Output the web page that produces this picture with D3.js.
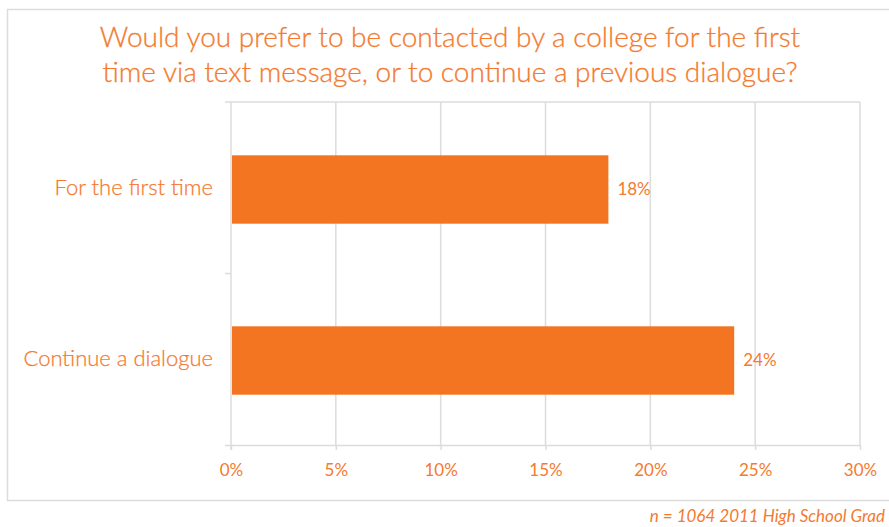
<!DOCTYPE html>
<html>
<head>
<meta charset="utf-8">
<script src="https://cdn.jsdelivr.net/npm/d3@7"></script>
<style>
  html, body { margin: 0; padding: 0; background: #fff; }
  svg { display: block; font-family: Lato, "Open Sans", sans-serif; }
</style>
</head>
<body>
<svg id="chart" width="889" height="527"></svg>
<script>
// Survey responses: share preferring text contact, by situation
const categories = ["For the first time", "Continue a dialogue"];
const values = [18, 24];
const tickValues = [0, 5, 10, 15, 20, 25, 30];
const titleLines = [
  "Would you prefer to be contacted by a college for the first",
  "time via text message, or to continue a previous dialogue?"
];
const footnote = "n = 1064 2011 High School Grad";

const orange = "#F37521";
const textOrange = "#F47A30";
const grid = "#DCDCDC";

const svg = d3.select("#chart");
const W = 889, H = 527;
const plot = { left: 231, right: 860, top: 102, bottom: 445 };

// outer frame
svg.append("rect")
  .attr("x", 7.5).attr("y", 9.5)
  .attr("width", W + 10).attr("height", 491)
  .attr("fill", "none").attr("stroke", grid).attr("stroke-width", 1.5);

// title
svg.append("g").selectAll("text")
  .data(titleLines).join("text")
  .attr("x", 450).attr("y", (d, i) => 47 + i * 35)
  .attr("text-anchor", "middle")
  .attr("font-size", 28).attr("font-weight", 300)
  .attr("fill", textOrange)
  .attr("stroke", textOrange).attr("stroke-width", 0.3)
  .text(d => d);

const x = d3.scaleLinear().domain([0, 30]).range([plot.left, plot.right]);
const y = d3.scaleBand().domain(categories).range([plot.top + 2, plot.bottom + 1])
  .paddingInner(0.6).paddingOuter(0.3);

// vertical gridlines
svg.append("g").selectAll("line")
  .data(tickValues.slice(1)).join("line")
  .attr("x1", d => x(d)).attr("x2", d => x(d))
  .attr("y1", plot.top).attr("y2", plot.bottom)
  .attr("stroke", grid).attr("stroke-width", 1.5);

// top border of the plot area
svg.append("line")
  .attr("x1", plot.left - 6).attr("x2", plot.right)
  .attr("y1", plot.top).attr("y2", plot.top)
  .attr("stroke", grid).attr("stroke-width", 1.5);

// left axis with a tick between categories
const yAxisG = svg.append("g");
yAxisG.append("line")
  .attr("x1", plot.left).attr("x2", plot.left)
  .attr("y1", plot.top).attr("y2", plot.bottom + 5)
  .attr("stroke", grid).attr("stroke-width", 1.5);
yAxisG.selectAll("line.tick")
  .data([(plot.top + plot.bottom) / 2]).join("line").attr("class", "tick")
  .attr("x1", plot.left - 6).attr("x2", plot.left)
  .attr("y1", d => d).attr("y2", d => d)
  .attr("stroke", grid).attr("stroke-width", 1.5);

// bottom axis
const xAxis = d3.axisBottom(x).tickValues(tickValues)
  .tickFormat(d => d + "%").tickSize(5).tickPadding(14);
const xAxisG = svg.append("g")
  .attr("transform", `translate(0,${plot.bottom})`)
  .call(xAxis);
xAxisG.select(".domain").attr("stroke", grid).attr("stroke-width", 1.5)
  .attr("d", `M${plot.left - 6},0.5H${plot.right}`);
xAxisG.selectAll(".tick line").attr("stroke", grid).attr("stroke-width", 1.5);
xAxisG.selectAll(".tick text")
  .attr("fill", textOrange).attr("font-size", 17)
  .attr("font-weight", 400)
  .attr("font-family", "Lato, sans-serif");

// bars
svg.append("g").selectAll("rect")
  .data(categories).join("rect")
  .attr("x", x(0) + 1)
  .attr("y", d => y(d))
  .attr("width", (d, i) => x(values[i]) - x(0) - 1)
  .attr("height", y.bandwidth())
  .attr("fill", orange);

// value labels
svg.append("g").selectAll("text")
  .data(categories).join("text")
  .attr("x", (d, i) => x(values[i]) + 9)
  .attr("y", d => y(d) + y.bandwidth() / 2)
  .attr("dy", "0.35em")
  .attr("font-size", 17).attr("font-weight", 400)
  .attr("fill", textOrange)
  .text((d, i) => values[i] + "%");

// category labels
svg.append("g").selectAll("text")
  .data(categories).join("text")
  .attr("x", 213)
  .attr("y", d => y(d) + y.bandwidth() / 2 - 2)
  .attr("dy", "0.35em")
  .attr("text-anchor", "end")
  .attr("font-size", 22).attr("font-weight", 300)
  .attr("fill", textOrange)
  .attr("stroke", textOrange).attr("stroke-width", 0.25)
  .text(d => d);

// footnote
svg.append("text")
  .attr("x", 885).attr("y", 522)
  .attr("text-anchor", "end")
  .attr("font-size", 17).attr("font-style", "italic").attr("font-weight", 400)
  .attr("fill", textOrange)
  .text(footnote);
</script>
</body>
</html>
